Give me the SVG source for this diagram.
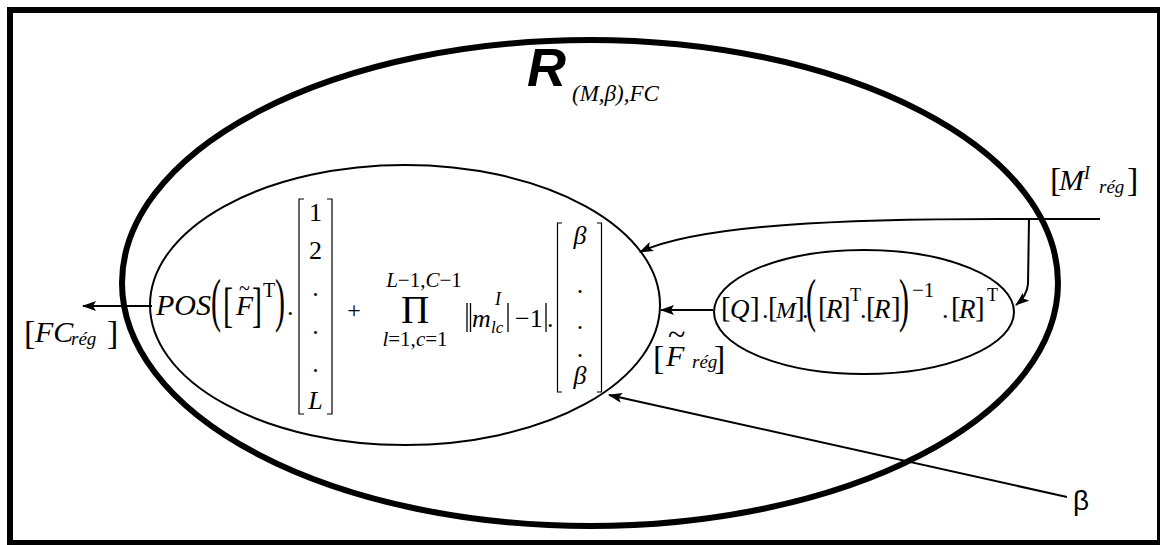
<svg xmlns="http://www.w3.org/2000/svg" width="1160" height="545" viewBox="0 0 1160 545">
<defs>
<style>
.t{font-family:"Liberation Serif","Times New Roman",serif;fill:#000}
.i{font-style:italic}
.ln{fill:none;stroke:#000;stroke-width:1.3}
.br{fill:none;stroke:#000;stroke-width:1.2}
.cn{fill:none;stroke:#000;stroke-width:2}
</style>
<marker id="ah" viewBox="0 0 14 10" refX="13" refY="5" markerWidth="14" markerHeight="10" markerUnits="userSpaceOnUse" orient="auto">
<path d="M0,0 L14,5 L0,10 L3,5 z" fill="#000"/>
</marker>
</defs>
<rect x="0" y="0" width="1160" height="545" fill="#fff"/>
<rect id="frame" x="10" y="10" width="1150" height="533" fill="none" stroke="#000" stroke-width="6"/>

<g id="scope">
<ellipse cx="590" cy="283" rx="468" ry="243" fill="none" stroke="#000" stroke-width="6"/>
<text x="527" y="86" font-family="Liberation Sans, Arial, sans-serif" font-weight="bold" font-style="italic" font-size="54">R</text>
<text class="t i" x="572" y="101" font-size="23">(M,β),FC</text>
</g>

<g id="main-formula">
<ellipse cx="405" cy="305" rx="255" ry="140" fill="none" stroke="#000" stroke-width="2"/>
<text class="t i" x="156" y="315" font-size="30">POS</text>
<text class="t" font-size="30" transform="translate(211,319.6) scale(1,1.95)">(</text>
<text class="t" font-size="30" transform="translate(223,320.5) scale(1,1.6)">[</text>
<text class="t i" x="236" y="315" font-size="28">F</text>
<text class="t" x="239" y="295" font-size="20">~</text>
<text class="t" font-size="30" transform="translate(252,320.5) scale(1,1.6)">]</text>
<text class="t" x="263" y="297" font-size="20">T</text>
<text class="t" font-size="30" transform="translate(275,319.6) scale(1,1.95)">)</text>
<text class="t" x="287" y="315" font-size="26">.</text>
<path class="br" d="M304,199 H299 V414 H304 M327,199 H332 V414 H327"/>
<g class="t" font-size="26" text-anchor="middle">
<text x="315.5" y="221">1</text>
<text x="315.5" y="259">2</text>
<text x="315.5" y="296">.</text>
<text x="315.5" y="334">.</text>
<text x="315.5" y="372">.</text>
<text class="i" x="315.5" y="409">L</text>
</g>
<text class="t" x="354" y="318" font-size="24" text-anchor="middle">+</text>
<text class="t" x="424" y="287" font-size="21" text-anchor="middle"><tspan class="i">L</tspan>−1,<tspan class="i">C</tspan>−1</text>
<text class="t" x="415" y="323" font-size="39" text-anchor="middle">Π</text>
<text class="t" x="415" y="346" font-size="21" text-anchor="middle"><tspan class="i">l</tspan>=1,<tspan class="i">c</tspan>=1</text>
<path class="ln" d="M467,303 V332 M470.5,303 V332 M508,303 V332 M546,303 V332"/>
<text class="t i" x="472" y="327" font-size="26">m</text>
<text class="t i" x="495" y="305" font-size="18">I</text>
<text class="t i" x="491" y="333" font-size="17">lc</text>
<text class="t" x="515" y="327" font-size="26">−1</text>
<text class="t" x="547" y="327" font-size="26">.</text>
<path class="br" d="M562,223 H557.5 V392 H562 M597,223 H601.5 V392 H597"/>
<g class="t" font-size="26" text-anchor="middle">
<text class="i" x="580" y="244">β</text>
<text x="580" y="293">.</text>
<text x="580" y="329">.</text>
<text x="580" y="357">.</text>
<text class="i" x="580" y="384">β</text>
</g>
</g>

<g id="filter-formula">
<ellipse cx="864" cy="312" rx="150" ry="62" fill="none" stroke="#000" stroke-width="2"/>
<g class="t" font-size="29">
<text x="721" y="317">[</text>
<text x="750" y="317">]</text>
<text x="768" y="317">[</text>
<text x="795" y="317">]</text>
<text x="818" y="317">[</text>
<text x="841" y="317">]</text>
<text x="866" y="317">[</text>
<text x="891" y="317">]</text>
<text x="951" y="317">[</text>
<text x="975" y="317">]</text>
</g>
<g class="t i" font-size="27">
<text x="730" y="318">Q</text>
<text x="776" y="318" font-size="24">M</text>
<text x="826" y="318">R</text>
<text x="874" y="318">R</text>
<text x="959" y="318">R</text>
</g>
<g class="t" font-size="26">
<text x="762" y="318">.</text>
<text x="802" y="318">.</text>
<text x="860" y="318">.</text>
<text x="942" y="318">.</text>
</g>
<g class="t" font-size="18">
<text x="850" y="301">T</text>
<text x="987" y="301">T</text>
<text x="912" y="297" font-size="21">−1</text>
</g>
<text class="t" font-size="30" transform="translate(806,319.6) scale(1,1.95)">(</text>
<text class="t" font-size="30" transform="translate(899,319.6) scale(1,1.95)">)</text>
</g>

<g id="label-MI">
<text class="t" x="1050" y="191" font-size="34">[</text>
<text class="t i" x="1059" y="190" font-size="30">M</text>
<text class="t i" x="1084" y="179" font-size="18">I</text>
<text class="t i" x="1099" y="193" font-size="19">rég</text>
<text class="t" x="1127" y="191" font-size="34">]</text>
</g>

<g id="label-FC">
<text class="t" x="24" y="344" font-size="34">[</text>
<text class="t i" x="35" y="342" font-size="30">FC</text>
<text class="t i" x="71" y="345" font-size="19">rég</text>
<text class="t" x="107" y="344" font-size="34">]</text>
</g>

<g id="label-Ftilde">
<text class="t" x="653" y="369" font-size="34">[</text>
<text class="t i" x="666" y="366" font-size="30">F</text>
<text class="t" x="668" y="345" font-size="32">~</text>
<text class="t i" x="692" y="368" font-size="19">rég</text>
<text class="t" x="714" y="369" font-size="34">]</text>
</g>

<g id="label-beta">
<text x="1073" y="510" font-family="Liberation Sans, Arial, sans-serif" font-size="28">β</text>
</g>

<g id="connectors">
<path class="cn" d="M713,310 H661" marker-end="url(#ah)"/>
<path class="cn" d="M152,306 H83" marker-end="url(#ah)"/>
<path class="cn" d="M1100,219 H1000 C850,219 700,224 640,252" marker-end="url(#ah)"/>
<path class="cn" d="M1029,219 L1028,284 Q1027,296 1016,305" marker-end="url(#ah)"/>
<path class="cn" d="M1067,497 L609,395" marker-end="url(#ah)"/>
</g>
</svg>
